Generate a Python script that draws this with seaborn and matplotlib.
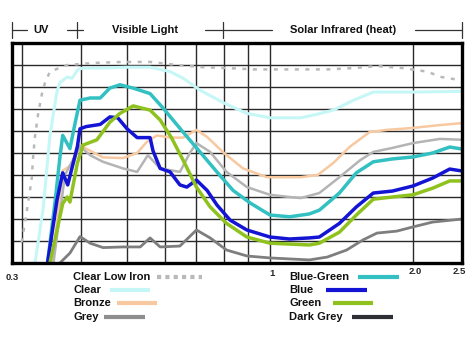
import numpy as np
import pandas as pd
import matplotlib
matplotlib.use("Agg")
import matplotlib.pyplot as plt
import matplotlib.transforms as mtransforms
from matplotlib.lines import Line2D
import seaborn as sns

# ---------------- data (wavelength in microns, transmittance in %) ----------------
clear_low_iron_wl = [0.300, 0.305, 0.310, 0.315, 0.317, 0.320, 0.325, 0.331, 0.336, 0.344, 0.374, 0.432, 0.490,
                     0.559, 0.637, 0.723, 0.816, 0.921, 1.034, 1.17, 1.32, 1.50, 1.68, 1.905, 2.14, 2.30, 2.54]
clear_low_iron_t = [9.5, 18.6, 28.6, 38.6, 48, 57.7, 68, 77, 82, 87, 90, 91, 91.4,
                    91.4, 90, 89, 88.6, 88, 88, 88, 88, 88.6, 89.5, 88.6, 87, 84.5, 83]

clear_wl = [0.320, 0.333, 0.344, 0.356, 0.361, 0.374, 0.383, 0.394, 0.404, 0.439, 0.50, 0.559, 0.616, 0.656,
            0.712, 0.80, 0.894, 1.0, 1.16, 1.25, 1.36, 1.50, 1.65, 2.0, 2.54]
clear_t = [0, 25, 58, 78, 82, 84.5, 84, 88, 88.6, 88.6, 89, 89, 87, 84,
           78.6, 72.7, 68, 66, 66, 67.5, 69.5, 74, 77.7, 77.7, 78]

bronze_wl = [0.348, 0.366, 0.385, 0.398, 0.418, 0.445, 0.49, 0.525, 0.55, 0.578, 0.616, 0.656, 0.70, 0.737,
             0.80, 0.877, 0.985, 1.16, 1.26, 1.36, 1.47, 1.62, 1.76, 2.0, 2.28, 2.54]
bronze_t = [0, 42, 45, 53.6, 51, 48, 47.7, 50, 55, 58, 57, 57, 60.5, 57.3,
            50, 43, 39, 39, 40, 45.5, 52.7, 59.5, 60.5, 61.4, 62.7, 63.6]

grey_wl = [0.350, 0.370, 0.398, 0.418, 0.445, 0.49, 0.525, 0.553, 0.587, 0.646, 0.678, 0.70, 0.748, 0.81,
           0.894, 1.0, 1.10, 1.16, 1.27, 1.40, 1.55, 1.65, 1.81, 2.0, 2.28, 2.54]
grey_t = [0, 40, 53, 49, 46, 43, 41.4, 49, 43, 41.4, 50, 54.5, 50.5, 41.4,
          34.5, 31, 30, 29.5, 31.8, 39, 46.8, 50.5, 52.3, 54.5, 56.4, 56]

blue_green_wl = [0.340, 0.353, 0.361, 0.366, 0.379, 0.389, 0.398, 0.418, 0.439, 0.46, 0.483, 0.515, 0.559,
                 0.595, 0.656, 0.712, 0.773, 0.836, 0.908, 1.0, 1.10, 1.21, 1.27, 1.40, 1.52, 1.65, 1.81, 2.0,
                 2.2, 2.39, 2.54]
blue_green_t = [0, 28.6, 48, 58, 52, 64, 74, 75, 75, 79.5, 81, 79.5, 77,
                70.5, 59.5, 50.5, 41.4, 33, 27.3, 21.8, 21, 22.3, 24, 31.8, 41, 46, 47.3, 48.2,
                50, 52.7, 51.8]

blue_wl = [0.340, 0.356, 0.366, 0.375, 0.393, 0.398, 0.41, 0.439, 0.46, 0.478, 0.50, 0.525, 0.559, 0.567,
           0.587, 0.616, 0.646, 0.668, 0.70, 0.737, 0.773, 0.824, 0.894, 1.0, 1.10, 1.21, 1.27, 1.40, 1.52,
           1.65, 1.81, 2.0, 2.2, 2.39, 2.54]
blue_t = [0, 28.6, 41, 35.5, 53, 61, 62, 63, 66.4, 66, 61, 57, 57, 51,
          43, 41.4, 35.5, 34.5, 37.7, 33, 26.4, 19.5, 15, 11.8, 10.9, 11.4, 11.8, 18, 25.5,
          31.8, 32.7, 35, 38.6, 42.7, 41.8]

green_wl = [0.344, 0.366, 0.374, 0.379, 0.393, 0.404, 0.432, 0.46, 0.483, 0.515, 0.559, 0.587, 0.62, 0.656,
            0.70, 0.748, 0.81, 0.894, 1.0, 1.21, 1.27, 1.40, 1.52, 1.65, 1.81, 2.0, 2.2, 2.39, 2.54]
green_t = [0, 27, 30, 27.7, 45.5, 53.6, 56, 64, 68, 71.4, 69.5, 65, 57, 46.8,
           34.5, 25.5, 18, 11.8, 9, 8.2, 9, 14, 21.8, 29, 30, 31, 34, 37.3, 37.3]

dark_grey_wl = [0.361, 0.379, 0.398, 0.418, 0.445, 0.49, 0.533, 0.559, 0.587, 0.646, 0.70, 0.748, 0.81, 0.894,
                1.0, 1.21, 1.32, 1.45, 1.57, 1.68, 1.85, 2.0, 2.2, 2.54]
dark_grey_t = [0, 4.5, 12, 9, 7, 7.3, 7.3, 11.4, 7.3, 7.7, 15, 11.4, 5.9, 3.2,
               2.3, 1.4, 2.7, 5.9, 10.5, 13.6, 14.5, 16.4, 18.6, 20]

series_names = ["Clear Low Iron", "Clear", "Bronze", "Grey", "Blue-Green", "Blue", "Green", "Dark Grey"]
series_wl = [clear_low_iron_wl, clear_wl, bronze_wl, grey_wl, blue_green_wl, blue_wl, green_wl, dark_grey_wl]
series_t = [clear_low_iron_t, clear_t, bronze_t, grey_t, blue_green_t, blue_t, green_t, dark_grey_t]

tick_labels = ["0.3", "1", "2.0", "2.5"]
tick_values = [0.3, 1.0, 2.0, 2.5]
grid_x = [0.3, 0.4, 0.5, 0.6, 0.7, 0.8, 0.9, 1.0, 2.0]
grid_y = [10, 20, 30, 40, 50, 60, 70, 80, 90]

region_labels = ["UV", "Visible Light", "Solar Infrared (heat)"]
region_bounds = [0.2865, 0.392, 0.796, 2.535]

# ---------------- styles ----------------
line_colors = {"Clear Low Iron": "#b9b9b9", "Clear": "#c6f7f7", "Bronze": "#f8c9a0", "Grey": "#b4b4b4",
               "Blue-Green": "#33c0c2", "Blue": "#1414d4", "Green": "#8fc21e", "Dark Grey": "#7e7e7e"}
legend_colors = dict(line_colors)
legend_colors["Grey"] = "#8e8e8e"
legend_colors["Dark Grey"] = "#2e2e36"
line_widths = {"Clear Low Iron": 1.8, "Clear": 2.2, "Bronze": 1.8, "Grey": 1.8,
               "Blue-Green": 2.5, "Blue": 2.5, "Green": 2.5, "Dark Grey": 2.0}

sns.set_style("white")
plt.rcParams["font.family"] = ["Liberation Sans", "DejaVu Sans"]

W, H = 474, 344
fig = plt.figure(figsize=(W / 100, H / 100), dpi=100)
fig.patch.set_facecolor("white")
ax = fig.add_axes([12 / W, 1 - 263 / H, 450 / W, 220 / H])

for name, wl, t in zip(series_names, series_wl, series_t):
    df = pd.DataFrame({"wl": wl, "t": t})
    sns.lineplot(data=df, x="wl", y="t", color=line_colors[name], lw=line_widths[name], sort=False,
                 estimator=None, legend=False, ax=ax)
    ln = ax.lines[-1]
    if name == "Clear Low Iron":
        ln.set_linestyle((0, (1.6, 2.6)))
    ln.set_zorder(3)
    ln.set_solid_joinstyle("round")

ax.set_xscale("log")
ax.set_xlim(0.2862, 2.537)
ax.set_ylim(0, 100)
ax.set_xlabel("")
ax.set_ylabel("")
ax.set_xticks(grid_x)
ax.set_xticks([], minor=True)
ax.set_yticks(grid_y)
ax.set_xticklabels([])
ax.set_yticklabels([])
ax.tick_params(length=0)
ax.grid(True, which="major", color="#2a2a2a", lw=1.0, zorder=1)
ax.set_axisbelow(True)
for sp in ax.spines.values():
    sp.set_visible(True)
    sp.set_color("black")
    sp.set_linewidth(2.4)
    sp.set_zorder(5)

# x tick labels
trans = mtransforms.blended_transform_factory(ax.transData, ax.transAxes)
label_dx = [-9, 2, 2, 0]
label_y = [-0.068, -0.05, -0.04, -0.04]
for lab, v, dx, yy in zip(tick_labels, tick_values, label_dx, label_y):
    tr = trans + mtransforms.ScaledTranslation(dx / 100, 0, fig.dpi_scale_trans)
    ax.text(v, yy, lab, transform=tr, ha="center", va="center", fontsize=6.8, fontweight="bold")

# region header
hy = 1 + 13 / 220
for b in region_bounds:
    ax.plot([b, b], [1 + 5 / 220, 1 + 21 / 220], transform=trans, color="#333333", lw=0.9, clip_on=False)
seg_x = [(0.2865, 0.308), (0.374, 0.404), (0.730, 1.01), (2.02, 2.535)]
for a, b in seg_x:
    ax.plot([a, b], [hy, hy], transform=trans, color="#333333", lw=0.9, clip_on=False)
label_x = [0.329, 0.545, 1.425]
for lab, lx in zip(region_labels, label_x):
    ax.text(lx, hy, lab, transform=trans, ha="center", va="center", fontsize=8, fontweight="bold", color="#111111")

# legend (manual)
def fx(px):
    return px / W

def fy(py):
    return 1 - py / H

left_col = series_names[:4]
right_col = series_names[4:]
row_y = [277, 290, 303, 317]
left_sw = [(157, 202), (110, 150), (117, 157), (104, 145)]
right_sw = [(358, 399), (326, 367), (333, 373), (352, 393)]
for names, tx, sws in [(left_col, 73, left_sw), (right_col, 289, right_sw)]:
    for name, yy, (a, b) in zip(names, row_y, sws):
        fig.text(fx(tx), fy(yy), name, ha="left", va="center", fontsize=8, fontweight="bold", color="#111111")
        ls = (0, (1.0, 1.0)) if name == "Clear Low Iron" else "-"
        fig.add_artist(Line2D([fx(a), fx(b)], [fy(yy), fy(yy)], color=legend_colors[name], lw=3.0,
                              linestyle=ls, transform=fig.transFigure, solid_capstyle="butt",
                              dash_capstyle="butt"))

fig.savefig("out.png", dpi=100, facecolor="white")
